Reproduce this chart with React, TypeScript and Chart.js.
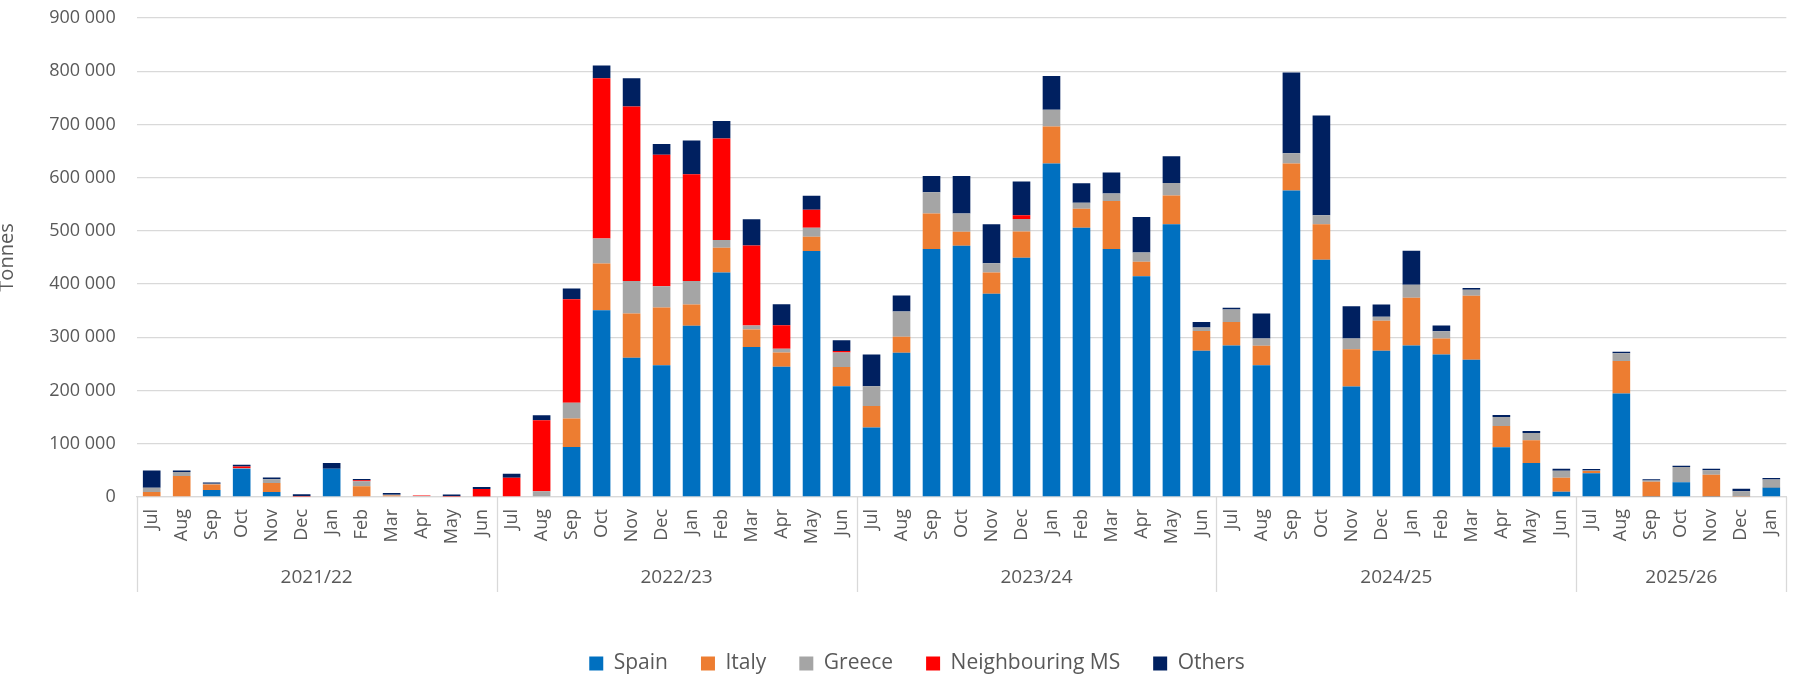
import React, { useEffect, useRef } from "react";
import { Chart, registerables } from "chart.js";

Chart.register(...registerables);

const monthLabels = [
  "Jul", "Aug", "Sep", "Oct", "Nov", "Dec", "Jan", "Feb", "Mar", "Apr", "May", "Jun",
  "Jul", "Aug", "Sep", "Oct", "Nov", "Dec", "Jan", "Feb", "Mar", "Apr", "May", "Jun",
  "Jul", "Aug", "Sep", "Oct", "Nov", "Dec", "Jan", "Feb", "Mar", "Apr", "May", "Jun",
  "Jul", "Aug", "Sep", "Oct", "Nov", "Dec", "Jan", "Feb", "Mar", "Apr", "May", "Jun",
  "Jul", "Aug", "Sep", "Oct", "Nov", "Dec", "Jan",
];

const yearLabels = ["2021/22", "2022/23", "2023/24", "2024/25", "2025/26"];
const yearSizes = [12, 12, 12, 12, 7];

const spain = [
  0, 0, 13000, 53000, 9500, 0, 53000, 0, 0, 0, 0, 0,
  0, 0, 94000, 351000, 261500, 247700, 321700, 422000, 282000, 244600, 462000, 208000,
  130400, 271000, 466000, 472000, 382000, 449700, 626500, 506000, 466000, 415000, 512400, 274700,
  284700, 247700, 575700, 446000, 207600, 274700, 284700, 267800, 257800, 93400, 64000, 10000,
  44400, 194500, 1000, 27500, 1000, 0, 18000,
];

const italy = [
  9400, 39500, 10700, 0, 17000, 0, 0, 20000, 3000, 0, 0, 0,
  0, 0, 53300, 87800, 83400, 108500, 40000, 46400, 32600, 27000, 27000, 36400,
  40800, 30000, 66500, 26300, 40000, 49000, 69600, 35700, 90300, 27000, 54000, 37000,
  43900, 36400, 50800, 66500, 70200, 56400, 89700, 30000, 120400, 40000, 42600, 26300,
  4400, 60800, 27500, 0, 40600, 1000, 1000,
];

const greece = [
  8000, 7500, 1000, 1000, 7000, 1000, 0, 9400, 1000, 2000, 1000, 1000,
  0, 10700, 30000, 47000, 60800, 40000, 44000, 14400, 7500, 7000, 17000, 27000,
  37000, 47700, 40000, 34500, 17000, 23800, 31400, 11300, 13800, 17600, 23800, 6900,
  23800, 13800, 19400, 17000, 20000, 7500, 24500, 13800, 11300, 17000, 13800, 13200,
  1000, 14700, 2500, 28800, 8800, 10000, 13800,
];

const neighbouringMS = [
  0, 0, 0, 3500, 0, 1000, 0, 2000, 0, 1000, 1000, 13800,
  36400, 133600, 194400, 301000, 328000, 247000, 200700, 190700, 150500, 44000, 33900, 3000,
  0, 0, 0, 0, 0, 6900, 0, 0, 0, 0, 0, 0,
  0, 0, 0, 0, 0, 0, 0, 0, 0, 0, 0, 0,
  0, 0, 0, 0, 0, 0, 0,
];

const others = [
  32600, 3000, 2500, 3000, 3000, 3000, 10700, 2500, 3500, 0, 2500, 3800,
  7500, 9400, 20000, 23800, 53300, 20000, 63300, 33200, 49500, 39500, 26300, 20000,
  59600, 30000, 30700, 70200, 73400, 63300, 63300, 36400, 39500, 66500, 50200, 10000,
  3100, 47000, 151800, 187500, 60800, 23200, 64000, 10700, 3100, 3800, 3800, 3800,
  3000, 3000, 2500, 2500, 2500, 4400, 3000,
];

const seriesNames = ["Spain", "Italy", "Greece", "Neighbouring MS", "Others"];
const seriesColors = ["#0070C0", "#ED7D31", "#A5A5A5", "#FF0000", "#002060"];

const FONT = "'Open Sans', sans-serif";
const TEXT = "#595959";
const GRID = "#d9d9d9";
const PAD_LEFT = 38;
const LEGEND_PAD = 33;
const LEGEND_FONT = 21;

const groupPlugin = {
  id: "groupAxis",
  afterDraw(chart: any) {
    const xs = chart.scales.x;
    const area = chart.chartArea;
    const ctx = chart.ctx;
    const lineBottom = 592;
    const labelY = 578;
    const n = monthLabels.length;
    const boundary = (i: number) => {
      if (i <= 0) return area.left;
      if (i >= n) return area.right;
      return (xs.getPixelForValue(i - 1) + xs.getPixelForValue(i)) / 2;
    };
    ctx.save();
    ctx.strokeStyle = GRID;
    ctx.lineWidth = 1.3;
    let start = 0;
    const bounds: number[] = [start];
    yearSizes.forEach((s) => {
      start += s;
      bounds.push(start);
    });
    bounds.forEach((b) => {
      const x = Math.round(boundary(b)) + 0.5;
      ctx.beginPath();
      ctx.moveTo(x, area.bottom);
      ctx.lineTo(x, lineBottom);
      ctx.stroke();
    });
    ctx.fillStyle = TEXT;
    ctx.font = `19px ${FONT}`;
    ctx.textAlign = "center";
    ctx.textBaseline = "middle";
    yearLabels.forEach((lab, k) => {
      const x0 = boundary(bounds[k]);
      const x1 = boundary(bounds[k + 1]);
      ctx.fillText(lab, (x0 + x1) / 2, labelY);
    });
    ctx.restore();
  },
};

export default function App() {
  const ref = useRef<HTMLCanvasElement | null>(null);

  useEffect(() => {
    if (!ref.current) return;
    const values = [spain, italy, greece, neighbouringMS, others];
    const chart = new Chart(ref.current, {
      type: "bar",
      data: {
        labels: monthLabels,
        datasets: seriesNames.map((name, i) => ({
          label: name,
          data: values[i],
          backgroundColor: seriesColors[i],
          borderWidth: 0,
          categoryPercentage: 1,
          barPercentage: 0.588,
        })),
      },
      options: {
        animation: false,
        responsive: true,
        maintainAspectRatio: false,
        layout: { padding: { top: 18, right: 9, bottom: 0, left: PAD_LEFT } },
        plugins: {
          tooltip: { enabled: false },
          legend: {
            position: "bottom",
            labels: {
              boxWidth: 14,
              boxHeight: 14,
              padding: LEGEND_PAD,
              color: TEXT,
              font: { family: FONT, size: LEGEND_FONT },
            },
          },
        },
        scales: {
          x: {
            stacked: true,
            grid: { display: false, drawTicks: false },
            border: { display: true, color: GRID, width: 1.3 },
            ticks: {
              autoSkip: false,
              maxRotation: 90,
              minRotation: 90,
              padding: 12,
              color: TEXT,
              font: { family: FONT, size: 18 },
            },
            afterFit: (scale: any) => {
              scale.height = 684 - 497 - (LEGEND_FONT + LEGEND_PAD + 10);
            },
          },
          y: {
            stacked: true,
            min: 0,
            max: 900000,
            grid: {
              color: GRID,
              lineWidth: 1.3,
              drawTicks: true,
              tickLength: 21,
              tickColor: "rgba(0,0,0,0)",
            },
            border: { display: false },
            ticks: {
              stepSize: 100000,
              padding: 0,
              color: TEXT,
              font: { family: FONT, size: 18 },
              callback: (v: any) =>
                String(v).replace(/\B(?=(\d{3})+(?!\d))/g, " "),
            },
            title: {
              display: true,
              text: "Tonnes",
              color: TEXT,
              font: { family: FONT, size: 20 },
              padding: { top: 7 - PAD_LEFT - 12, bottom: 0 },
            },
            afterFit: (scale: any) => {
              scale.width = 136.7 - PAD_LEFT;
            },
          },
        },
      },
      plugins: [groupPlugin],
    });
    return () => chart.destroy();
  }, []);

  return (
    <div style={{ position: "fixed", left: 0, top: 0, width: 1805, height: 684, background: "#fff" }}>
      <canvas ref={ref} />
    </div>
  );
}
